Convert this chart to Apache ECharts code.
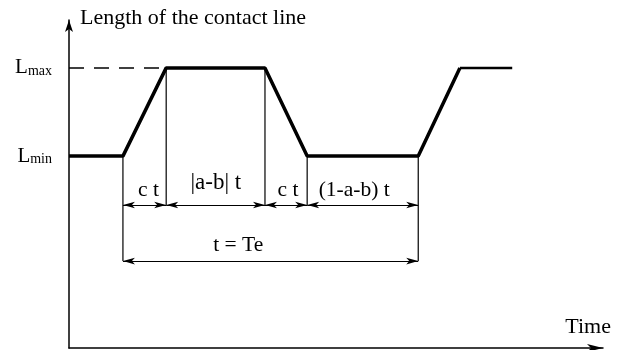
<!DOCTYPE html>
<html>
<head>
<meta charset="utf-8">
<script src="https://cdn.jsdelivr.net/npm/echarts@6/dist/echarts.min.js"></script>
<style>
  html, body { margin: 0; padding: 0; background: #fff; }
  #chart { width: 621px; height: 350px; }
</style>
</head>
<body>
<div id="chart"></div>
<script>
// contact line length profile (time in arbitrary units, length in % of axis)
const lMin = 58.5;
const lMax = 85.4;
const profileTime = [0, 10.1, 18.2, 36.7, 44.6, 65.4, 73.2];
const profileLength = [lMin, lMin, lMax, lMax, lMin, lMin, lMax];
const tailTime = [73.2, 83.0];
const tailLength = [lMax, lMax];
const dashTime = [0, 18.2];

// extension lines for the dimensions
const extTime = [10.1, 18.2, 36.7, 44.6, 65.4];
const extTop = [lMin, lMax, lMax, lMin, lMin];
const extBottom = [26.5, 43.6, 43.6, 43.6, 26.5];

// dimension lines
const upperLevel = 43.6;
const lowerLevel = 26.5;
const upperStarts = [10.1, 18.2, 36.7, 44.6];
const upperEnds = [18.2, 36.7, 44.6, 65.4];
const lowerStart = 10.1;
const lowerEnd = 65.4;

// dimension texts
const dimTexts = ['c t', '|a-b| t', 'c t', '(1-a-b) t', 't = Te'];
const dimTextX = [14.9, 27.5, 41.0, 53.4, 31.7];
const dimTextY = [48.0, 50.2, 48.0, 48.0, 31.3];
const dimTextSize = [21.5, 23, 21.5, 21.5, 21.5];

const serif = 'Liberation Serif';
const chart = echarts.init(document.getElementById('chart'));

const lineSeries = (xs, ys, width, extra) => Object.assign({
  type: 'line',
  data: xs.map((x, i) => [x, ys[i]]),
  symbol: 'none',
  silent: true,
  lineStyle: { color: '#000', width: width }
}, extra || {});

const series = [];
series.push(lineSeries(dashTime, [lMax, lMax], 1.5, { lineStyle: { color: '#000', width: 1.5, type: [15, 10] } }));
extTime.forEach((x, i) => series.push(lineSeries([x, x], [extTop[i], extBottom[i]], 1.2)));
series.push(lineSeries(profileTime, profileLength, 3.5));
series.push(lineSeries(tailTime, tailLength, 2.5));

const dimData = upperStarts.map((s, i) => [{ coord: [s, upperLevel] }, { coord: [upperEnds[i], upperLevel] }]);
dimData.push([{ coord: [lowerStart, lowerLevel] }, { coord: [lowerEnd, lowerLevel] }]);
series.push({
  type: 'line',
  data: [],
  silent: true,
  markLine: {
    silent: true,
    symbol: ['arrow', 'arrow'],
    symbolSize: [5, 12],
    label: { show: false },
    lineStyle: { color: '#000', width: 1.2, type: 'solid' },
    emphasis: { disabled: true },
    data: dimData
  }
});

series.push({
  type: 'scatter',
  symbolSize: 0,
  silent: true,
  itemStyle: { color: '#000', opacity: 1 },
  data: dimTexts.map((t, i) => ({ name: t, value: [dimTextX[i], dimTextY[i]], label: { fontSize: dimTextSize[i] } })),
  label: {
    show: true,
    position: 'inside',
    formatter: '{b}',
    color: '#000',
    opacity: 1,
    textBorderWidth: 0,
    fontFamily: serif,
    fontSize: 21
  }
});

chart.setOption({
  animation: false,
  backgroundColor: '#fff',
  grid: { left: 69, right: 18, top: 20, bottom: 2 },
  xAxis: {
    type: 'value',
    min: 0,
    max: 100,
    name: 'Time',
    nameLocation: 'end',
    nameGap: 8,
    nameTextStyle: { color: '#000', fontFamily: serif, fontSize: 22, align: 'right', verticalAlign: 'bottom', padding: [0, 0, 10, 0] },
    axisLine: { lineStyle: { color: '#000', width: 1.5 }, symbol: ['none', 'arrow'], symbolSize: [6, 16] },
    axisTick: { show: false },
    axisLabel: { show: false },
    splitLine: { show: false }
  },
  yAxis: {
    type: 'value',
    min: 0,
    max: 100,
    name: 'Length of the contact line',
    nameLocation: 'end',
    nameGap: 2,
    nameTextStyle: { color: '#000', fontFamily: serif, fontSize: 22, align: 'left', verticalAlign: 'middle', padding: [0, 0, 0, 11] },
    axisLine: { lineStyle: { color: '#000', width: 1.5 }, symbol: ['none', 'arrow'], symbolSize: [6, 12] },
    axisTick: { show: false },
    splitLine: { show: false },
    axisLabel: {
      customValues: [lMin, lMax],
      margin: 17,
      formatter: v => v === lMax ? '{l|L}{s|max}' : '{l|L}{s|min}',
      rich: {
        l: { color: '#000', fontFamily: serif, fontSize: 21, verticalAlign: 'bottom' },
        s: { color: '#000', fontFamily: serif, fontSize: 14, verticalAlign: 'bottom' }
      }
    }
  },
  series: series
});
</script>
</body>
</html>
